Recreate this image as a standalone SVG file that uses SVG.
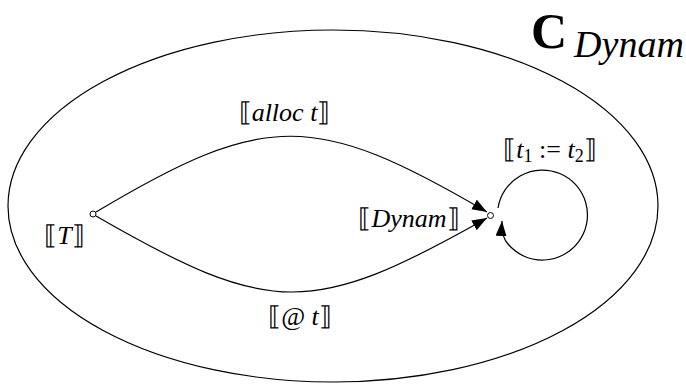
<svg xmlns="http://www.w3.org/2000/svg" width="686" height="388" viewBox="0 0 686 388">
<style>
.lbl{font-family:"Liberation Serif","DejaVu Serif",serif;font-size:26px;fill:#000}
.it{font-style:italic}
.edge{fill:none;stroke:#000;stroke-width:1.2}
.node{fill:#fff;stroke:#000;stroke-width:1}
</style>
<defs>
<marker id="ah" markerUnits="userSpaceOnUse" markerWidth="16" markerHeight="12" refX="15" refY="5.5" orient="auto"><path d="M0,0 L15,5.5 L0,11 z" fill="#000"/></marker>
</defs>
<rect width="686" height="388" fill="#fff"/>
<g id="category">
<ellipse cx="333" cy="206" rx="325" ry="176" fill="none" stroke="#000" stroke-width="1.2"/>
<text class="lbl" x="531" y="48" style="font-size:50px;font-weight:bold" textLength="40">C</text>
<text class="lbl it" x="574" y="57" style="font-size:38px" textLength="110">Dynam</text>
</g>
<g id="connectors">
<path class="edge" d="M96,212 C265,111 315,111 487,212" marker-end="url(#ah)"/>
<path class="edge" d="M96,216 C271,317 312,317 487,218" marker-end="url(#ah)"/>
<path class="edge" d="M498,208 A45,45 0 1 1 508,244 Q501,236 502,221" marker-end="url(#ah)"/>
<text class="lbl" x="284.5" y="121" text-anchor="middle">⟦<tspan class="it">alloc t</tspan>⟧</text>
<text class="lbl" x="300" y="325" text-anchor="middle">⟦@ <tspan class="it">t</tspan>⟧</text>
<text class="lbl" x="550" y="158" text-anchor="middle">⟦<tspan class="it">t</tspan><tspan style="font-size:18px" dy="4">1</tspan><tspan dy="-4"> := </tspan><tspan class="it">t</tspan><tspan style="font-size:18px" dy="4">2</tspan><tspan dy="-4">⟧</tspan></text>
</g>
<g id="node-T">
<circle class="node" cx="93" cy="214" r="3"/>
<text class="lbl" x="64.5" y="244" text-anchor="middle">⟦<tspan class="it">T</tspan>⟧</text>
</g>
<g id="node-Dynam">
<circle class="node" cx="490.5" cy="215.5" r="3"/>
<text class="lbl" x="409" y="227" text-anchor="middle">⟦<tspan class="it">Dynam</tspan>⟧</text>
</g>
</svg>
